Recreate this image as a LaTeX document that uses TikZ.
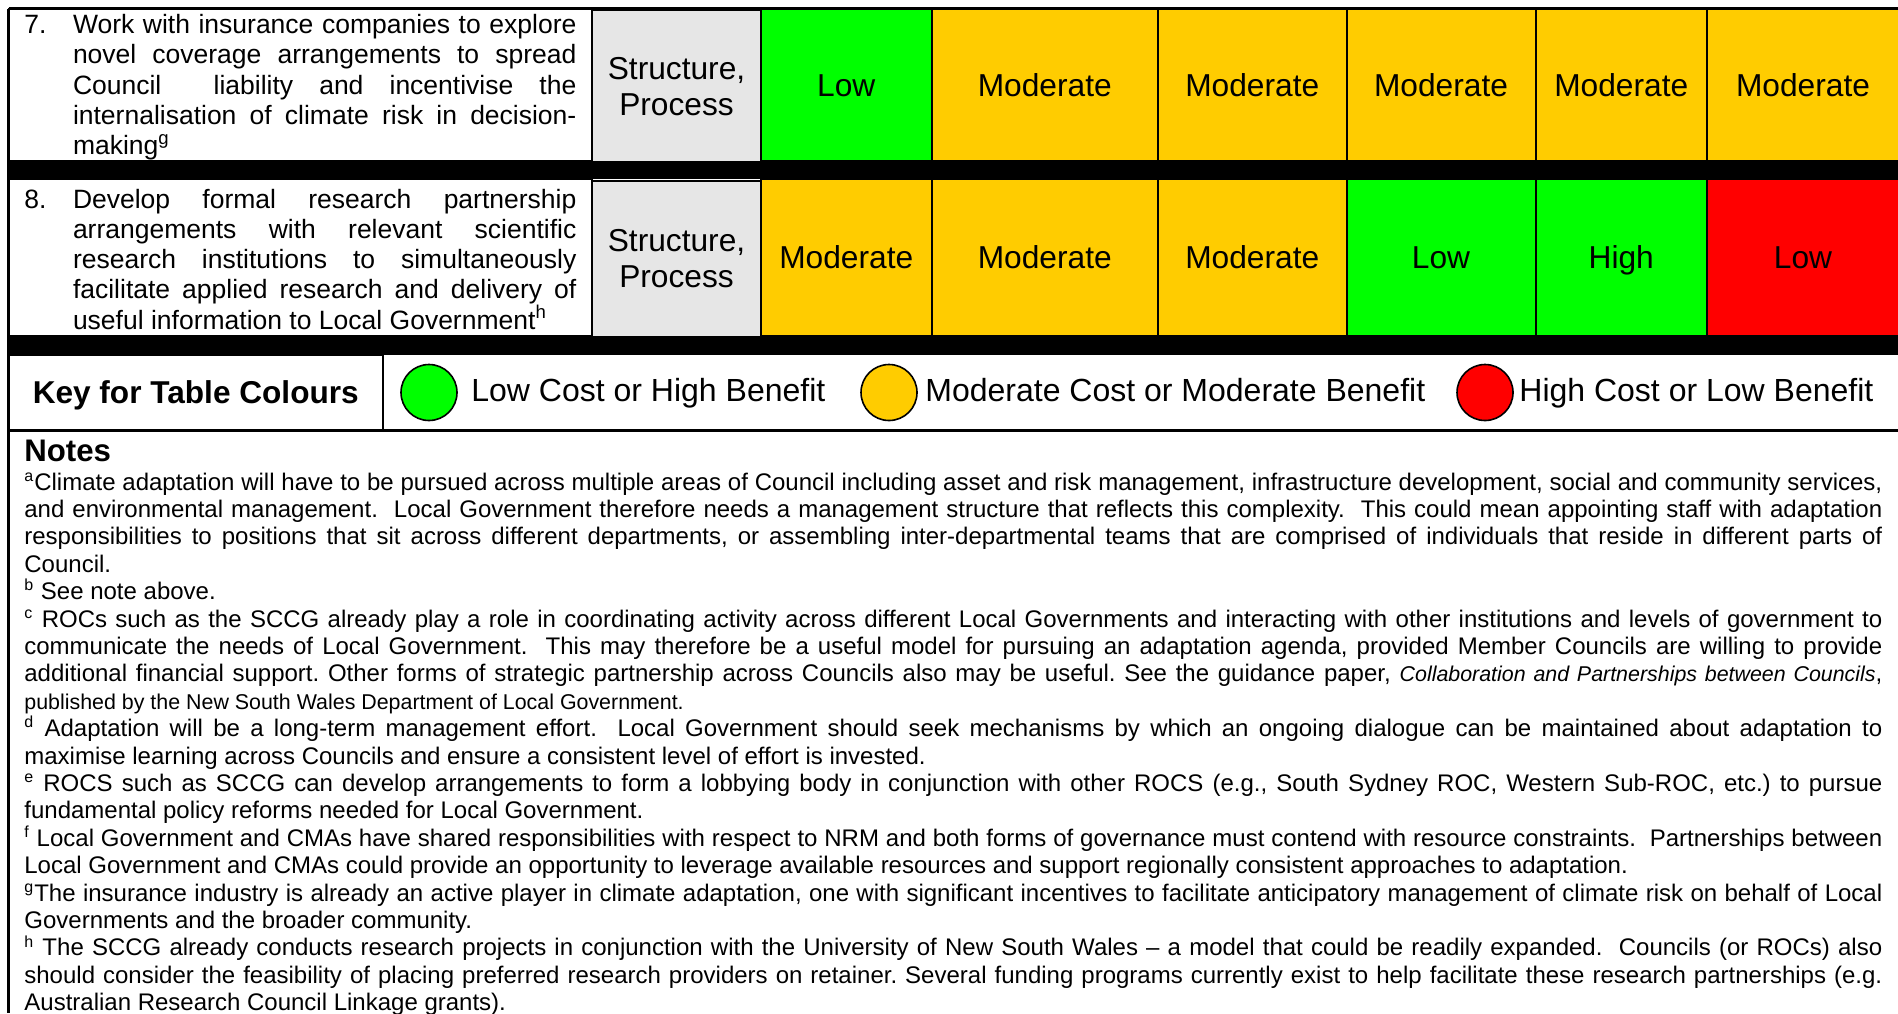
\documentclass[tikz,border=0pt]{standalone}
\usepackage{fontspec}
\setmainfont{Liberation Sans}
\usetikzlibrary{positioning}

\definecolor{lowgreen}{RGB}{0,255,0}
\definecolor{midyellow}{RGB}{255,204,0}
\definecolor{highred}{RGB}{255,0,0}
\definecolor{typegrey}{RGB}{230,230,230}

\newcommand{\cellfont}{\fontsize{15.85}{18}\selectfont}
\newcommand{\itemfont}{\fontsize{13.25}{15.15}\selectfont}
\newcommand{\notefont}{\fontsize{12}{13.7}\selectfont}
\newcommand{\notesmall}{\fontsize{10.7}{13.7}\selectfont}

\tolerance=9999
\hbadness=10000
\hyphenpenalty=10000
\exhyphenpenalty=10000
\frenchspacing

\tikzset{
  framecell/.style={draw=black, line width=1pt, inner sep=0pt},
  typecell/.style={framecell, font=\cellfont, align=center},
  ratecell/.style={framecell, font=\cellfont, text height=11.4pt, text depth=0pt},
  itemnum/.style={anchor=base west, inner sep=0pt, font=\itemfont},
  itemtext/.style={anchor=base west, inner sep=0pt, text width=251.7pt, align=justify, font=\itemfont},
  keylabel/.style={framecell, text height=11.3pt, text depth=0pt, font=\bfseries\fontsize{15.8}{18}\selectfont},
  keydot/.style={circle, draw=black, line width=0.8pt, minimum size=28pt, inner sep=0pt},
  keytext/.style={anchor=base west, inner sep=0pt, font=\fontsize{16}{19}\selectfont},
  notehead/.style={anchor=base west, inner sep=0pt, font=\bfseries\fontsize{15.6}{18}\selectfont},
  notetext/.style={anchor=base west, inner sep=0pt, text width=929pt, align=justify, font=\notefont}
}

\begin{document}
\begin{tikzpicture}[x=0.5pt, y=-0.5pt]
  \useasboundingbox (0,0) rectangle (1898,1013);

  % item and type cells
  \foreach \r/\ya/\yb in {7/8.5/161, 8/179/336}{
    \node[framecell, fill=white, minimum width=291.75pt, minimum height={(\yb-\ya)*0.5pt}]
      (item\r) at (300.25, {(\ya+\yb)/2}) {};
    \node[typecell, fill=typegrey, minimum width=84.5pt, minimum height={(\yb-\ya)*0.5pt}]
      (type\r) at (676.5, {(\ya+\yb)/2+1.5}) {Structure,\\Process};
  }

  % row 7 ratings
  \foreach \xl/\xr/\col/\txt [count=\i] in {
    761/931.5/lowgreen/Low,
    931.5/1158/midyellow/Moderate,
    1158/1346.5/midyellow/Moderate,
    1346.5/1535.5/midyellow/Moderate,
    1535.5/1707/midyellow/Moderate,
    1707/1899/midyellow/Moderate
  }{
    \node[ratecell, fill=\col, minimum width={(\xr-\xl)*0.5pt}, minimum height=76.25pt]
      (r7c\i) at ({(\xl+\xr)/2}, 84.75) {\txt};
  }

  % row 8 ratings
  \foreach \xl/\xr/\col/\txt [count=\i] in {
    761/931.5/midyellow/Moderate,
    931.5/1158/midyellow/Moderate,
    1158/1346.5/midyellow/Moderate,
    1346.5/1535.5/lowgreen/Low,
    1535.5/1707/lowgreen/High,
    1707/1899/highred/Low
  }{
    \node[ratecell, fill=\col, minimum width={(\xr-\xl)*0.5pt}, minimum height=78.5pt]
      (r8c\i) at ({(\xl+\xr)/2}, 257.5) {\txt};
  }

  % item texts
  \node[itemnum] (num7) at (24, 33.5) {7.};
  \node[itemtext] (text7) at (72.6, 33.5) {Work with insurance companies to explore\linebreak
    novel coverage arrangements to spread\linebreak
    Council\ \ liability and incentivise the\linebreak
    internalisation of climate risk in decision-\linebreak
    making\textsuperscript{g}};
  \node[itemnum] (num8) at (24, 208) {8.};
  \node[itemtext] (text8) at (72.6, 208) {Develop formal research partnership\linebreak
    arrangements with relevant scientific\linebreak
    research institutions to simultaneously\linebreak
    facilitate applied research and delivery of\linebreak
    useful information to Local Government\textsuperscript{h}};

  % black separator bands
  \fill (8.5,161) rectangle (1900,179);
  \fill (8.5,336) rectangle (1900,355);

  % key for colours
  \node[keylabel, minimum width=187.25pt, minimum height=37.5pt] (key) at (195.75, 392.5) {Key for Table Colours};
  \foreach \cx/\col/\lx/\lbl [count=\k] in {
    429/lowgreen/471/Low Cost or High Benefit,
    889/midyellow/925/Moderate Cost or Moderate Benefit,
    1485/highred/1519/High Cost or Low Benefit
  }{
    \node[keydot, fill=\col] (dot\k) at (\cx, 392.5) {};
    \node[keytext] (lbl\k) at (\lx, 401.5) {\lbl};
  }

  % outer rules
  \draw[line width=1.5pt] (8.5,8.5) -- (1900,8.5);
  \draw[line width=1.5pt] (8.5,8.5) -- (8.5,1013);
  \draw[line width=1.5pt] (8.5,430) -- (1900,430);

  % notes
  \node[notehead] (notes) at (24, 461) {Notes};
  \node[notetext] (notebody) at (24, 490) {%
\textsuperscript{a}Climate adaptation will have to be pursued across multiple areas of Council including asset and risk management, infrastructure development, social and community services,\linebreak
and environmental management.\ \ Local Government therefore needs a management structure that reflects this complexity.\ \ This could mean appointing staff with adaptation\linebreak
responsibilities to positions that sit across different departments, or assembling inter-departmental teams that are comprised of individuals that reside in different parts of\linebreak
Council.\par
\textsuperscript{b} See note above.\par
\textsuperscript{c} ROCs such as the SCCG already play a role in coordinating activity across different Local Governments and interacting with other institutions and levels of government to\linebreak
communicate the needs of Local Government.\ \ This may therefore be a useful model for pursuing an adaptation agenda, provided Member Councils are willing to provide\linebreak
additional financial support. Other forms of strategic partnership across Councils also may be useful. See the guidance paper, {\notesmall\itshape Collaboration and Partnerships between Councils},\linebreak
{\notesmall published by the New South Wales Department of Local Government.}\par
\textsuperscript{d} Adaptation will be a long-term management effort.\ \ Local Government should seek mechanisms by which an ongoing dialogue can be maintained about adaptation to\linebreak
maximise learning across Councils and ensure a consistent level of effort is invested.\par
\textsuperscript{e} ROCS such as SCCG can develop arrangements to form a lobbying body in conjunction with other ROCS (e.g., South Sydney ROC, Western Sub-ROC, etc.) to pursue\linebreak
fundamental policy reforms needed for Local Government.\par
\textsuperscript{f} Local Government and CMAs have shared responsibilities with respect to NRM and both forms of governance must contend with resource constraints.\ \ Partnerships between\linebreak
Local Government and CMAs could provide an opportunity to leverage available resources and support regionally consistent approaches to adaptation.\par
\textsuperscript{g}The insurance industry is already an active player in climate adaptation, one with significant incentives to facilitate anticipatory management of climate risk on behalf of Local\linebreak
Governments and the broader community.\par
\textsuperscript{h} The SCCG already conducts research projects in conjunction with the University of New South Wales \textendash{} a model that could be readily expanded.\ \ Councils (or ROCs) also\linebreak
should consider the feasibility of placing preferred research providers on retainer. Several funding programs currently exist to help facilitate these research partnerships (e.g.\linebreak
Australian Research Council Linkage grants).};
\end{tikzpicture}
\end{document}
